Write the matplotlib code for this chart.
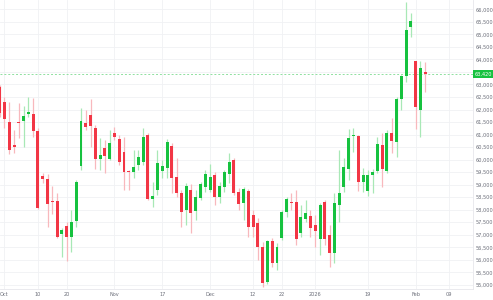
import numpy as np
import matplotlib
matplotlib.use("Agg")
import matplotlib.pyplot as plt
import matplotlib.transforms as mtransforms

# daily OHLC, Sep 30 .. Feb 4 (trading days)
opens = [62900, 62300, 61500, 60590, 61520, 61540, 61820, 61820, 61140, 59350,
         59230, 58330, 58350, 57030, 57350, 56920, 57550, 59750, 61460, 61780,
         61260, 60030, 60470, 60030, 61060, 60830, 60310, 59550, 59510, 59790,
         59910, 60990, 58430, 58790, 59550, 59670, 60550, 59310, 58670, 57990,
         58790, 57950, 58470, 58910, 58790, 59390, 58510, 58910, 59430, 59990,
         58710, 58270, 58750, 57790, 57470, 56520, 55120, 56760, 55880, 56880,
         57910, 58320, 58310, 57070, 57630, 57750, 57390, 56840, 58310, 56990,
         56280, 58190, 58910, 59630, 60950, 60950, 59110, 58750, 59390, 59550,
         60590, 59550, 61060, 60710, 62420, 63340, 65290, 63940, 61980, 63500]
highs = [62980, 62500, 62300, 61180, 62260, 62140, 62500, 62460, 61260, 59470,
         59430, 58950, 58670, 57270, 57510, 57990, 59190, 62060, 61980, 62420,
         61380, 60870, 60790, 61180, 61300, 60990, 60910, 59590, 60390, 60390,
         61260, 61060, 59110, 60390, 59990, 60830, 60670, 60070, 58790, 59070,
         59030, 58790, 59110, 59590, 59830, 59510, 59110, 59590, 60270, 60070,
         58870, 58910, 58830, 57990, 57670, 56720, 56800, 56880, 56680, 57990,
         58510, 58670, 58790, 58190, 58390, 57990, 57790, 58270, 58390, 57390,
         58670, 60390, 60070, 61220, 61260, 60990, 59670, 59590, 59630, 60910,
         61060, 61180, 61660, 62500, 63380, 66290, 65850, 63940, 63940, 63900]
lows = [61700, 61260, 60230, 60270, 60870, 60510, 61700, 60910, 58030, 59070,
        57310, 57830, 56880, 56120, 55960, 56320, 57310, 59590, 61180, 60510,
        59630, 59590, 59470, 59990, 60790, 59790, 58790, 58790, 59270, 59590,
        59790, 58390, 58110, 58590, 59270, 59270, 58670, 58510, 57310, 57390,
        57070, 57590, 58390, 58710, 58710, 58190, 58270, 58710, 59070, 58590,
        57990, 57590, 56920, 56920, 56000, 54920, 55040, 55720, 55600, 56800,
        57710, 57990, 56600, 56920, 57510, 56920, 56520, 56200, 56600, 55720,
        55880, 57510, 58710, 59190, 60310, 58750, 58710, 58550, 58670, 59470,
        58910, 59470, 60270, 60110, 61980, 63100, 64900, 61220, 60910, 62700]
closes = [61860, 61620, 60390, 60510, 61480, 61740, 61900, 61140, 58070, 59230,
          58230, 58310, 56920, 57190, 56920, 57510, 59110, 61540, 61300, 61340,
          60030, 60190, 60150, 60670, 60910, 59910, 59510, 59510, 59710, 60110,
          60910, 58430, 58550, 59870, 59750, 60710, 59270, 58670, 57910, 58950,
          57870, 58510, 59030, 59430, 59310, 58510, 58950, 59510, 59910, 58670,
          58230, 58830, 57310, 57310, 56520, 55080, 56760, 55880, 56520, 57910,
          58430, 58280, 56840, 57710, 57870, 57270, 57150, 58190, 56840, 56280,
          58270, 58670, 59710, 60870, 60950, 59110, 59390, 59390, 59510, 60630,
          59630, 61060, 60750, 62420, 63340, 65170, 65530, 62100, 63660, 63420]

tick_bars = [1, 8, 14, 24, 34, 44, 53, 59, 66, 77, 87, 94]
tick_labels = ["Oct", "10", "20", "Nov", "17", "Dec", "12", "22", "2026", "19", "Feb", "09"]
price_ticks = np.arange(55000, 66001, 500)

up_body, up_wick = "#16c23f", "#a8e8b6"
down_body, down_wick = "#f23645", "#f8b8bd"

fig = plt.figure(figsize=(4.93, 3.0), dpi=100)
ax = fig.add_axes([0.0, 0.037, 473 / 493, 0.963])

x = np.arange(len(opens))
o = np.array(opens)
h = np.array(highs)
l = np.array(lows)
c = np.array(closes)
up = c >= o

ax.vlines(x[up], l[up], h[up], color=up_wick, linewidth=0.9, zorder=2)
ax.vlines(x[~up], l[~up], h[~up], color=down_wick, linewidth=0.9, zorder=2)
body_low = np.minimum(o, c)
body_h = np.maximum(np.abs(c - o), 25)
ax.bar(x[up], body_h[up], bottom=body_low[up], width=0.62, color=up_body, linewidth=0, zorder=3)
ax.bar(x[~up], body_h[~up], bottom=body_low[~up], width=0.62, color=down_body, linewidth=0, zorder=3)

last = closes[-1]
ax.axhline(last, color="#8fe0a0", linewidth=0.7, linestyle=(0, (2, 2)), zorder=1)

ax.set_xlim(0.06, 99.0)
ax.set_ylim(54840, 66371)
ax.set_xticks(tick_bars)
ax.set_xticklabels(tick_labels)
ax.set_yticks(price_ticks)
ax.set_yticklabels([f"{v:,}" for v in price_ticks])
ax.yaxis.tick_right()
ax.tick_params(axis="both", length=0, labelsize=3.6, colors="#6a6d78", pad=2)
ax.grid(True, color="#f0f1f4", linewidth=0.6)
ax.set_axisbelow(True)

for side in ["left", "top"]:
    ax.spines[side].set_visible(False)
for side in ["right", "bottom"]:
    ax.spines[side].set_color("#e6e7eb")
    ax.spines[side].set_linewidth(0.6)

trans = mtransforms.blended_transform_factory(ax.transAxes, ax.transData)
ax.text(1.004, last, f"{last:,}", transform=trans, fontsize=3.6, color="white",
        va="center", ha="left",
        bbox=dict(boxstyle="square,pad=0.35", facecolor="#16c23f", edgecolor="none"))

fig.savefig("out.png", dpi=100)
